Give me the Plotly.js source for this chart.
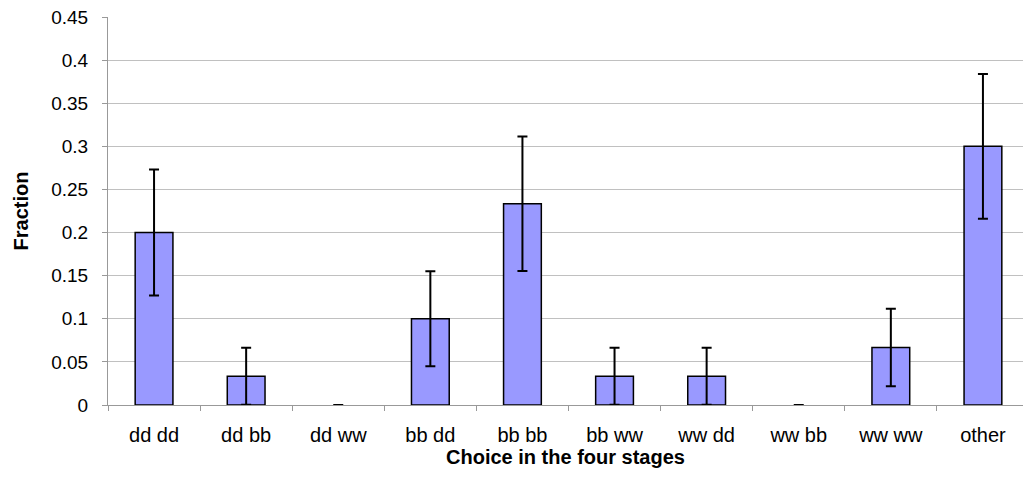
<!DOCTYPE html>
<html><head><meta charset="utf-8">
<script src="https://cdn.plot.ly/plotly-3.0.1.min.js"></script>
<style>body{margin:0;background:#fff;overflow:hidden}#chart{width:1023px;height:480px}</style>
</head><body><div id="chart"></div>
<script>
const categories = ["dd dd","dd bb","dd ww","bb dd","bb bb","bb ww","ww dd","ww bb","ww ww","other"];
const fractions = [0.2, 0.0333, 0, 0.1, 0.2333, 0.0333, 0.0333, 0, 0.0667, 0.3];
const errors = [0.073, 0.033, 0, 0.055, 0.078, 0.033, 0.033, 0, 0.045, 0.084];
const yTicks = [0,0.05,0.1,0.15,0.2,0.25,0.3,0.35,0.4,0.45];
const yTickText = ["0","0.05","0.1","0.15","0.2","0.25","0.3","0.35","0.4","0.45"];

const trace = {
  type: "bar", x: categories, y: fractions, width: 0.41,
  marker: {color: "#9999ff", line: {color: "#000", width: fractions.map(v => v === 0 ? 0 : 1.5)}},
  error_y: {type: "data", array: errors, visible: true, color: "#000", thickness: 2, width: 5},
  hoverinfo: "x+y"
};
const layout = {
  width: 1023, height: 480,
  margin: {l: 108, r: 0, t: 17, b: 75},
  paper_bgcolor: "#fff", plot_bgcolor: "#fff",
  font: {family: "Liberation Sans, Arial, sans-serif", color: "#000", size: 20},
  showlegend: false,
  xaxis: {
    type: "category", range: [-0.5, 9.435], tickson: "boundaries", ticks: "outside", ticklen: 5, tickcolor: "#999",
    showline: true, linecolor: "#999", linewidth: 1, showgrid: false,
    tickfont: {size: 20}, ticklabelstandoff: 12,
    title: {text: "<b>Choice in the four stages</b>", font: {size: 20}, standoff: 1}
  },
  yaxis: {
    range: [0, 0.45], tickvals: yTicks, ticktext: yTickText,
    ticks: "outside", ticklen: 5, tickcolor: "#999",
    showline: true, linecolor: "#999", linewidth: 1,
    showgrid: true, gridcolor: "#c0c0c0", gridwidth: 1, zeroline: false,
    tickfont: {size: 19}, ticklabelstandoff: 10,
    title: {text: "<b>Fraction</b>", font: {size: 20}, standoff: 17}
  }
};
Plotly.newPlot("chart", [trace], layout, {displayModeBar: false, staticPlot: true});
</script></body></html>
